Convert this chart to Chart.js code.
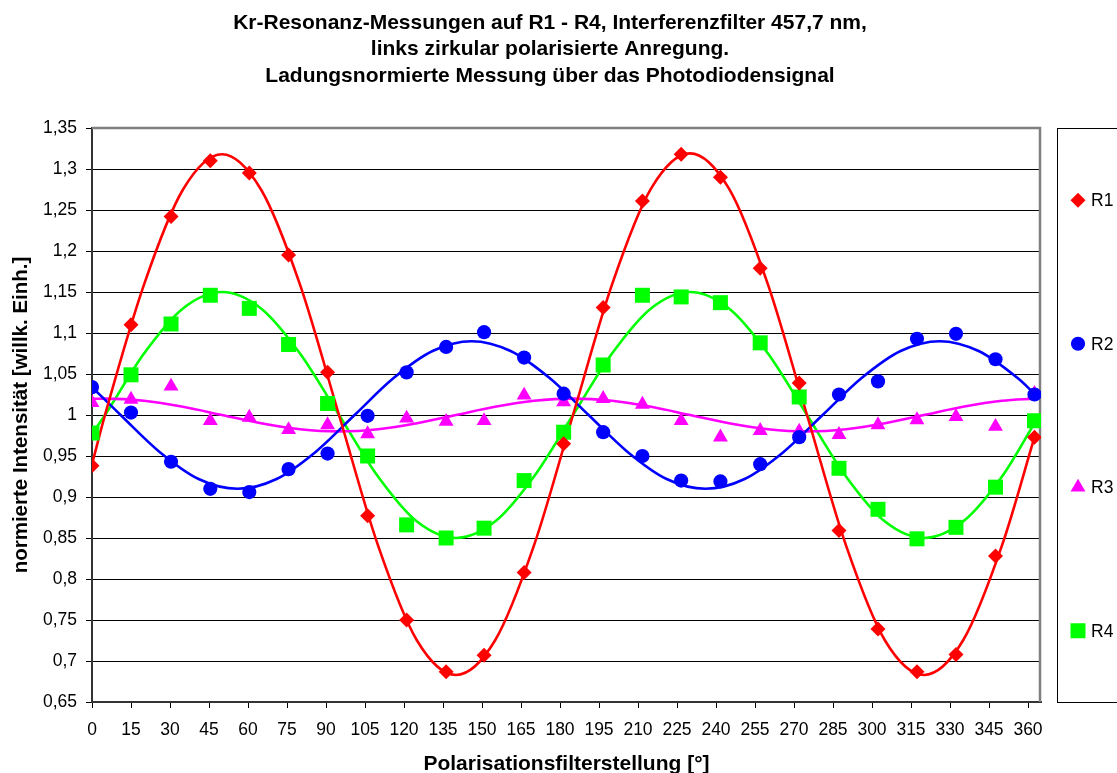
<!DOCTYPE html>
<html>
<head>
<meta charset="utf-8">
<script src="https://cdn.jsdelivr.net/npm/chart.js@4/dist/chart.umd.min.js"></script>
<style>
  html, body { margin: 0; padding: 0; background: #fff; }
  canvas { display: block; }
</style>
</head>
<body>
<canvas id="c" width="1117" height="773"></canvas>
<script>
// Measured polarisation filter angles (degrees)
const angles = [0, 15, 30.4, 45.5, 60.5, 75.6, 90.6, 106, 121, 136.2, 150.8, 166.2, 181.4,
  196.6, 211.7, 226.6, 241.7, 257, 272, 287.3, 302.3, 317.3, 332.3, 347.5, 362.5];

// Normalised intensities per resonance
const r1 = [0.938, 1.110, 1.242, 1.310, 1.295, 1.195, 1.052, 0.877, 0.750, 0.687, 0.707, 0.808, 0.965,
  1.131, 1.261, 1.318, 1.290, 1.179, 1.039, 0.859, 0.739, 0.687, 0.708, 0.828, 0.973];
const r2 = [1.034, 1.003, 0.943, 0.910, 0.906, 0.934, 0.953, 0.999, 1.052, 1.083, 1.101, 1.070, 1.026,
  0.979, 0.950, 0.920, 0.919, 0.940, 0.973, 1.025, 1.041, 1.093, 1.099, 1.068, 1.025];
const r3 = [1.015, 1.019, 1.035, 0.993, 0.997, 0.982, 0.988, 0.977, 0.996, 0.992, 0.993, 1.024, 1.016,
  1.020, 1.013, 0.993, 0.973, 0.981, 0.980, 0.976, 0.988, 0.994, 0.998, 0.986, 1.026];
const r4 = [0.978, 1.049, 1.111, 1.146, 1.130, 1.086, 1.014, 0.950, 0.866, 0.850, 0.862, 0.920, 0.979,
  1.061, 1.146, 1.144, 1.137, 1.088, 1.022, 0.935, 0.885, 0.849, 0.863, 0.912, 0.993];

// Fitted curves (R1, R3, R4 share one angle grid, R2 has its own)
const fitAnglesA = [0, 5, 20, 35, 50, 65, 80, 95, 110, 125, 140, 155, 170, 185, 200, 215, 230,
  245, 260, 275, 290, 305, 320, 335, 350, 362.5];
const fitAnglesB = [0, 11, 26, 41, 56, 71, 86, 101, 116, 131, 146, 161, 176, 191, 206, 221, 236,
  251, 266, 281, 296, 311, 326, 341, 356, 362.5];
const fitR1 = [0.940, 1.000, 1.159, 1.275, 1.318, 1.275, 1.159, 1.000, 0.841, 0.725, 0.683, 0.725, 0.841,
  1.000, 1.159, 1.276, 1.319, 1.276, 1.159, 1.000, 0.841, 0.725, 0.683, 0.725, 0.841, 0.973];
const fitR2 = [1.034, 1.000, 0.955, 0.922, 0.910, 0.922, 0.955, 1.000, 1.045, 1.078, 1.090, 1.078, 1.045,
  1.000, 0.955, 0.922, 0.910, 0.922, 0.955, 1.000, 1.045, 1.078, 1.090, 1.078, 1.045, 1.026];
const fitR3 = [1.0197, 1.020, 1.0173, 1.010, 1.000, 0.990, 0.9827, 0.980, 0.9827, 0.990, 1.000, 1.010, 1.0173,
  1.020, 1.0173, 1.010, 1.000, 0.990, 0.9827, 0.980, 0.9827, 0.990, 1.000, 1.010, 1.0173, 1.0199];
const fitR4 = [0.977, 1.000, 1.075, 1.130, 1.150, 1.130, 1.075, 1.000, 0.925, 0.870, 0.850, 0.870, 0.925,
  1.000, 1.075, 1.130, 1.150, 1.130, 1.075, 1.000, 0.925, 0.870, 0.850, 0.870, 0.925, 0.990];

// Axis ticks
const xTickValues = [0, 15, 30, 45, 60, 75, 90, 105, 120, 135, 150, 165, 180, 195, 210, 225, 240,
  255, 270, 285, 300, 315, 330, 345, 360];
const yTickValues = [0.65, 0.7, 0.75, 0.8, 0.85, 0.9, 0.95, 1, 1.05, 1.1, 1.15, 1.2, 1.25, 1.3, 1.35];

const titleLines = [
  'Kr-Resonanz-Messungen auf R1 - R4, Interferenzfilter 457,7 nm,',
  'links zirkular polarisierte Anregung.',
  'Ladungsnormierte Messung über das Photodiodensignal'
];

const FONT = '"Liberation Sans", Arial, Helvetica, sans-serif';
Chart.defaults.font.family = FONT;
Chart.defaults.color = '#000';

const series = [
  { name: 'R1', values: r1, fitX: fitAnglesA, fitY: fitR1, color: '#FF0000', style: 'rectRot', radius: 7.5 },
  { name: 'R2', values: r2, fitX: fitAnglesB, fitY: fitR2, color: '#0000FF', style: 'circle', radius: 7.1 },
  { name: 'R3', values: r3, fitX: fitAnglesA, fitY: fitR3, color: '#FF00FF', style: 'triangle', radius: 8.6 },
  { name: 'R4', values: r4, fitX: fitAnglesA, fitY: fitR4, color: '#00FF00', style: 'rect', radius: 10.6 }
];

const datasets = [];
series.forEach(s => {
  datasets.push({
    label: s.name,
    data: angles.map((a, i) => ({ x: a, y: s.values[i] })),
    showLine: false,
    pointStyle: s.style,
    pointRadius: s.radius,
    pointHoverRadius: s.radius,
    pointBackgroundColor: s.color,
    pointBorderColor: s.color,
    pointBorderWidth: 0,
    order: 0
  });
});
series.forEach(s => {
  datasets.push({
    label: s.name + ' fit',
    data: s.fitX.map((a, i) => ({ x: a, y: s.fitY[i] })),
    showLine: true,
    borderColor: s.color,
    borderWidth: 2.6,
    pointRadius: 0,
    pointHoverRadius: 0,
    cubicInterpolationMode: 'monotone',
    fill: false,
    order: 1
  });
});

function drawMarker(ctx, style, r, x, y, color) {
  if (Chart.helpers && Chart.helpers.drawPoint) {
    ctx.save();
    ctx.fillStyle = color;
    ctx.strokeStyle = color;
    ctx.lineWidth = 0;
    Chart.helpers.drawPoint(ctx, { pointStyle: style, radius: r, rotation: 0, borderWidth: 0 }, x, y);
    ctx.restore();
  }
}

const chartTitle = {
  id: 'chartTitle',
  afterDraw(chart) {
    const ctx = chart.ctx;
    ctx.save();
    ctx.fillStyle = '#000';
    ctx.font = 'bold 21px ' + FONT;
    ctx.textAlign = 'center';
    ctx.textBaseline = 'middle';
    titleLines.forEach((t, i) => ctx.fillText(t, 550, 23 + i * 26.5));
    ctx.restore();
  }
};

const plotFrame = {
  id: 'plotFrame',
  beforeDatasetsDraw(chart) {
    const { ctx, chartArea: a } = chart;
    ctx.save();
    ctx.strokeStyle = '#808080';
    ctx.lineWidth = 2.5;
    ctx.beginPath();
    ctx.moveTo(a.left, a.top);
    ctx.lineTo(a.right - 1, a.top);
    ctx.lineTo(a.right - 1, a.bottom);
    ctx.stroke();
    ctx.restore();
  }
};

const sideLegend = {
  id: 'sideLegend',
  afterDraw(chart) {
    const { ctx, chartArea: a } = chart;
    const boxLeft = 1057.5, boxTop = a.top + 0.5, boxBottom = a.bottom + 0.5;
    ctx.save();
    ctx.strokeStyle = '#000';
    ctx.lineWidth = 1;
    ctx.strokeRect(boxLeft, boxTop, 200, boxBottom - boxTop);
    const slot = (boxBottom - boxTop) / series.length;
    ctx.font = '17.5px ' + FONT;
    ctx.textAlign = 'left';
    ctx.textBaseline = 'middle';
    series.forEach((s, i) => {
      const y = boxTop + slot * (i + 0.5);
      drawMarker(ctx, s.style, s.radius, 1078, y, s.color);
      ctx.fillStyle = '#000';
      ctx.fillText(s.name, 1091, y + 1);
    });
    ctx.restore();
  }
};

function commaLabel(v) {
  return String(Math.round(v * 100) / 100).replace('.', ',');
}

new Chart(document.getElementById('c'), {
  type: 'scatter',
  data: { datasets },
  options: {
    responsive: false,
    animation: false,
    events: [],
    layout: { padding: { left: 0, top: 128, right: 76, bottom: 0 } },
    plugins: {
      legend: { display: false },
      title: { display: false },
      tooltip: { enabled: false }
    },
    scales: {
      x: {
        type: 'linear',
        min: 0,
        max: 365,
        afterBuildTicks: s => { s.ticks = xTickValues.map(v => ({ value: v })); },
        afterFit: s => { s.height = 71; },
        ticks: {
          color: '#000',
          font: { size: 17.5 },
          padding: 12,
          maxRotation: 0,
          autoSkip: false,
          callback: v => String(v)
        },
        grid: { drawOnChartArea: false, drawTicks: true, tickLength: 6, color: '#000', lineWidth: 1 },
        border: { color: '#333', width: 2 },
        title: {
          display: true,
          text: 'Polarisationsfilterstellung [°]',
          color: '#000',
          font: { size: 21, weight: 'bold' },
          padding: { top: 0, bottom: -3.5 }
        }
      },
      y: {
        min: 0.65,
        max: 1.35,
        afterBuildTicks: s => { s.ticks = yTickValues.map(v => ({ value: v })); },
        afterFit: s => { s.width = 92; },
        ticks: {
          color: '#000',
          font: { size: 17.5 },
          padding: 9,
          autoSkip: false,
          callback: v => commaLabel(v)
        },
        grid: { color: '#000', lineWidth: 1, drawTicks: true, tickLength: 6 },
        border: { color: '#333', width: 2 },
        title: {
          display: true,
          text: 'normierte Intensität [willk. Einh.]',
          color: '#000',
          font: { size: 20.5, weight: 'bold' },
          padding: { top: 9, bottom: 0 }
        }
      }
    }
  },
  plugins: [plotFrame, chartTitle, sideLegend]
});
</script>
</body>
</html>
